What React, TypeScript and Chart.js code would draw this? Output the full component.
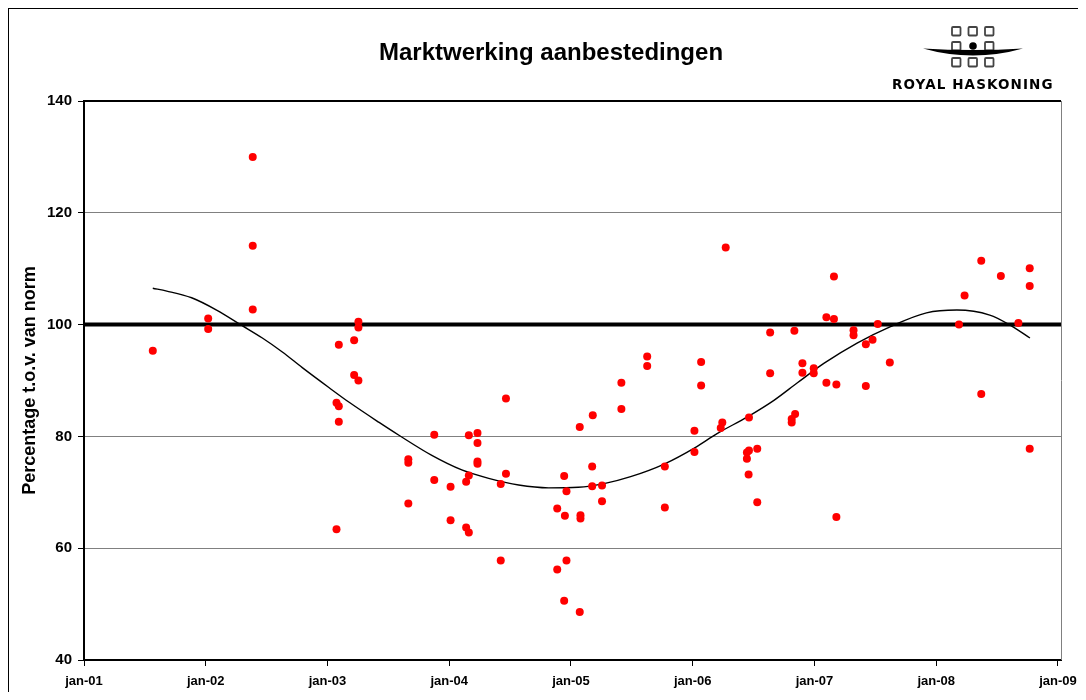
import React, { useEffect, useRef } from 'react';
import { Chart, registerables } from 'chart.js';

Chart.register(...registerables);

// Tender results: date (decimal year) and percentage relative to norm
const tenderDates = [
  2001.565, 2002.02, 2002.02, 2002.386, 2002.386, 2002.386,
  2003.074, 2003.074, 2003.093, 2003.093, 2003.093, 2003.219, 2003.219,
  2003.254, 2003.254, 2003.254, 2003.664, 2003.664, 2003.664, 2003.877, 2003.877,
  2004.011, 2004.011, 2004.139, 2004.139, 2004.161, 2004.161, 2004.161,
  2004.232, 2004.232, 2004.232, 2004.232, 2004.423, 2004.423, 2004.466, 2004.466,
  2004.887, 2004.887, 2004.944, 2004.944, 2004.95, 2004.963, 2004.963,
  2005.072, 2005.072, 2005.078, 2005.078, 2005.174, 2005.174, 2005.179,
  2005.255, 2005.255, 2005.414, 2005.414, 2005.626, 2005.626, 2005.771, 2005.771,
  2006.014, 2006.014, 2006.069, 2006.069, 2006.243, 2006.23, 2006.271,
  2006.445, 2006.445, 2006.462, 2006.462, 2006.459, 2006.53, 2006.53,
  2006.636, 2006.636, 2006.813, 2006.813, 2006.835, 2006.841, 2006.901, 2006.901,
  2006.994, 2006.994, 2007.098, 2007.098, 2007.16, 2007.16, 2007.18, 2007.18,
  2007.321, 2007.321, 2007.422, 2007.422, 2007.477, 2007.52, 2007.619,
  2008.187, 2008.233, 2008.37, 2008.37, 2008.531, 2008.675, 2008.768, 2008.768, 2008.768,
];
const tenderValues = [
  95.3, 101.1, 99.2, 130.0, 114.1, 102.7,
  86.0, 63.4, 96.4, 85.4, 82.6, 97.2, 91.0,
  100.5, 99.5, 90.0, 75.9, 75.3, 68.0, 80.3, 72.2,
  71.0, 65.0, 71.9, 63.7, 80.2, 73.0, 62.8,
  80.6, 78.8, 75.5, 75.1, 71.5, 57.8, 86.8, 73.3,
  67.1, 56.2, 72.9, 50.6, 65.8, 70.2, 57.8,
  81.7, 48.6, 65.9, 65.3, 74.6, 71.1, 83.8,
  71.2, 68.4, 89.6, 84.9, 94.3, 92.6, 74.6, 67.3,
  81.0, 77.2, 93.3, 89.1, 82.5, 81.5, 113.8,
  77.1, 76.0, 83.4, 77.5, 73.2, 77.8, 68.2,
  98.6, 91.3, 83.1, 82.5, 98.9, 84.0, 93.1, 91.4,
  92.2, 91.3, 101.3, 89.6, 108.6, 101.0, 89.3, 65.6,
  99.0, 98.1, 96.5, 89.0, 97.3, 100.1, 93.2,
  100.0, 105.2, 111.4, 87.6, 108.7, 100.3, 110.1, 106.9, 77.8,
];

// Trend line
const trendDates = [
  2001.565, 2001.68, 2001.884, 2002.089, 2002.293, 2002.465, 2002.629, 2002.793,
  2003.014, 2003.178, 2003.424, 2003.587, 2003.857, 2004.103, 2004.324, 2004.57,
  2004.816, 2005.06, 2005.28, 2005.49, 2005.77, 2006.02, 2006.2, 2006.45,
  2006.67, 2006.86, 2007.08, 2007.35, 2007.62, 2007.92, 2008.17, 2008.44, 2008.6, 2008.77,
];
const trendValues = [
  106.5, 106.0, 104.8, 102.6, 99.9, 97.6, 95.1, 92.3,
  88.7, 86.1, 82.5, 80.2, 76.6, 74.0, 72.5, 71.3,
  70.8, 70.9, 71.6, 72.8, 75.1, 78.0, 80.5, 83.5,
  86.5, 89.6, 93.1, 96.7, 99.6, 102.1, 102.6, 101.7, 100.0, 97.6,
];

// x-axis ticks (january of each year)
const xTickValues = [2001, 2002, 2003, 2004, 2005, 2006, 2007, 2008, 2009];

const xMin = 2001;
const xMax = 2009.025;
const yMin = 40;
const yMax = 140;

const normDates = [xMin, xMax];
const normValues = [100, 100];

const FONT = '"Liberation Sans", Arial, sans-serif';

const framePlugin = {
  id: 'frame',
  afterDraw(chart: any) {
    const { ctx, chartArea: a } = chart;
    ctx.save();
    ctx.strokeStyle = '#000';
    ctx.lineWidth = 2;
    ctx.beginPath();
    ctx.moveTo(a.left, a.top);
    ctx.lineTo(a.right, a.top);
    ctx.stroke();
    ctx.strokeStyle = '#808080';
    ctx.lineWidth = 1;
    ctx.beginPath();
    ctx.moveTo(a.right + 0.5, a.top);
    ctx.lineTo(a.right + 0.5, a.bottom);
    ctx.stroke();
    ctx.restore();
  },
};

function Logo() {
  const cols = [37, 53.5, 70];
  const rows = [7, 22, 38];
  const squares: any[] = [];
  rows.forEach((r, ri) =>
    cols.forEach((c, ci) => {
      if (ri === 1 && ci === 1) return;
      squares.push(
        <rect key={`${ri}-${ci}`} x={c} y={r} width={8.5} height={8.5} rx={1}
          fill="#fff" stroke="#444" strokeWidth={1.8} />
      );
    })
  );
  return (
    <svg width={120} height={60} style={{ position: 'absolute', left: 906, top: 11 }}>
      {squares}
      <path d="M 8 28.5 Q 58 31.5 108 28.5 Q 58 42.5 8 28.5 Z" fill="#000" />
      <circle cx={58} cy={26} r={3.8} fill="#000" />
    </svg>
  );
}

export default function App() {
  const ref = useRef<HTMLCanvasElement | null>(null);

  useEffect(() => {
    document.documentElement.style.overflow = 'hidden';
    if (!ref.current) return;
    const chart = new Chart(ref.current, {
      type: 'scatter',
      data: {
        datasets: [
          {
            label: 'Aanbestedingen',
            data: tenderDates.map((x, i) => ({ x, y: tenderValues[i] })),
            backgroundColor: '#ff0000',
            borderColor: '#ff0000',
            borderWidth: 0,
            pointRadius: 4,
            showLine: false,
            order: 0,
          },
          {
            label: 'Trend',
            data: trendDates.map((x, i) => ({ x, y: trendValues[i] })),
            borderColor: '#000',
            borderWidth: 1.4,
            pointRadius: 0,
            showLine: true,
            cubicInterpolationMode: 'monotone',
            order: 1,
          },
          {
            label: 'Norm',
            data: normDates.map((x, i) => ({ x, y: normValues[i] })),
            borderColor: '#000',
            borderWidth: 4,
            pointRadius: 0,
            showLine: true,
            order: 2,
          },
        ],
      },
      options: {
        animation: false,
        responsive: false,
        layout: { padding: { top: 92, right: 0, left: 0, bottom: 0 } },
        plugins: {
          legend: { display: false },
          tooltip: { enabled: false },
          title: { display: false },
        },
        scales: {
          x: {
            type: 'linear',
            min: xMin,
            max: xMax,
            afterBuildTicks(s: any) {
              s.ticks = xTickValues.map((value) => ({ value }));
            },
            afterFit(s: any) { s.height = 32; s.paddingRight = 25; s.paddingLeft = 0; },
            ticks: {
              autoSkip: false,
              maxRotation: 0,
              padding: 8,
              color: '#000',
              font: { family: FONT, weight: 'bold', size: 13 },
              callback: (v: any) => 'jan-' + String(Math.round(Number(v)) % 100).padStart(2, '0'),
            },
            grid: { drawOnChartArea: false, tickLength: 6, tickColor: '#000' },
            border: { color: '#000', width: 2 },
          },
          y: {
            min: yMin,
            max: yMax,
            afterFit(s: any) { s.width = 75; },
            ticks: {
              stepSize: 20,
              padding: 6,
              color: '#000',
              font: { family: FONT, weight: 'bold', size: 15 },
            },
            grid: {
              color: (c: any) => {
                const v = c.tick ? c.tick.value : null;
                return v === 100 || v === 140 || v === 40 ? 'rgba(0,0,0,0)' : '#808080';
              },
              tickColor: '#000',
              tickLength: 6,
            },
            border: { color: '#000', width: 2 },
            title: {
              display: true,
              text: 'Percentage t.o.v. van norm',
              color: '#000',
              font: { family: FONT, weight: 'bold', size: 18 },
              padding: { top: 10, bottom: 0 },
            },
          },
        },
      } as any,
      plugins: [framePlugin],
    });
    return () => chart.destroy();
  }, []);

  return (
    <div style={{ position: 'relative', width: 1077, height: 683, borderLeft: '1px solid #000', borderTop: '1px solid #000', background: '#fff' }}>
      <canvas ref={ref} width={1077} height={683} style={{ position: 'absolute', left: 0, top: 0 }} />
      <div style={{ position: 'absolute', left: 542, top: 29, transform: 'translateX(-50%)', whiteSpace: 'nowrap', fontFamily: FONT, fontWeight: 'bold', fontSize: 24, lineHeight: '28px', color: '#000' }}>
        Marktwerking aanbestedingen
      </div>
      <Logo />
      <div style={{ position: 'absolute', left: 883, top: 69, whiteSpace: 'nowrap', fontFamily: '"DejaVu Sans", sans-serif', fontWeight: 'bold', fontSize: 13.5, lineHeight: '13px', letterSpacing: '1.1px', color: '#000' }}>
        ROYAL HASKONING
      </div>
    </div>
  );
}
